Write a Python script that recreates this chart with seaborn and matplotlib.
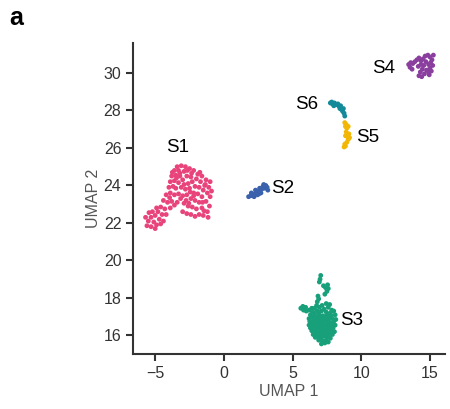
# UMAP scatter of six clusters (S1-S6)
import matplotlib
matplotlib.use("Agg")
import matplotlib.pyplot as plt
import pandas as pd
import seaborn as sns

# --------------------------------------------
# Cluster coordinates
# --------------------------------------------
s1_pts = [(-3.4, 25.0), (-3.1, 25.05), (-2.8, 25.0), (-2.5, 24.9), (-3.6, 24.8), (-3.3, 24.8),
          (-2.9, 24.75), (-2.2, 24.8), (-1.9, 24.6), (-1.6, 24.5), (-1.3, 24.3), (-1.0, 24.2),
          (-3.8, 24.5), (-3.5, 24.55), (-3.2, 24.5), (-2.7, 24.5), (-2.4, 24.45), (-2.0, 24.35),
          (-1.7, 24.2), (-1.4, 24.0), (-1.1, 23.9), (-0.9, 23.7), (-3.9, 24.2), (-3.6, 24.25),
          (-3.3, 24.15), (-3.0, 24.3), (-2.6, 24.1), (-2.3, 24.2), (-2.1, 23.95), (-1.8, 23.9),
          (-1.5, 23.75), (-1.2, 23.6), (-4.0, 23.9), (-3.7, 23.95), (-3.5, 23.85), (-3.1, 23.9),
          (-2.8, 23.8), (-2.5, 23.85), (-2.2, 23.6), (-1.9, 23.55), (-1.6, 23.4), (-1.0, 23.4),
          (-4.2, 23.5), (-3.9, 23.6), (-3.6, 23.5), (-3.3, 23.55), (-3.0, 23.45), (-2.7, 23.5),
          (-2.4, 23.3), (-2.1, 23.2), (-1.8, 23.1), (-1.3, 23.15), (-1.05, 22.9), (-4.4, 23.2),
          (-4.1, 23.1), (-3.8, 23.15), (-3.4, 23.1), (-2.9, 23.05), (-2.6, 22.9), (-2.3, 22.85),
          (-2.0, 22.75), (-1.6, 22.8), (-1.2, 22.6), (-4.6, 22.85), (-4.3, 22.75), (-3.9, 22.8),
          (-3.0, 22.6), (-2.7, 22.5), (-2.4, 22.45), (-2.1, 22.35), (-1.8, 22.45), (-1.5, 22.4),
          (-1.15, 22.3), (-4.8, 22.6), (-4.5, 22.45), (-5.0, 22.4), (-4.7, 22.2), (-5.3, 22.3),
          (-5.1, 22.05), (-5.5, 22.1), (-4.4, 22.1), (-5.6, 21.85), (-5.3, 21.8), (-4.9, 21.9),
          (-5.7, 22.3), (-5.45, 22.55), (-4.9, 22.8), (-4.2, 22.45), (-5.0, 21.7), (-4.6, 21.95),
          (-3.2, 24.65), (-2.35, 24.65), (-2.9, 24.05), (-2.45, 23.65), (-3.15, 23.3), (-2.75, 23.2),
          (-3.6, 22.95), (-2.2, 23.45), (-1.55, 23.1), (-1.35, 24.05), (-3.45, 24.4), (-1.75, 24.7),
          (-3.75, 24.7), (-2.65, 24.8), (-1.45, 22.65), (-2.55, 23.05), (-3.95, 23.35), (-5.2, 22.6)]

s2_pts = [(1.8, 23.4), (1.95, 23.45), (2.1, 23.5), (2.0, 23.6), (2.25, 23.55), (2.4, 23.65),
          (2.3, 23.75), (2.55, 23.7), (2.6, 23.85), (2.75, 23.8), (2.85, 23.95), (2.95, 23.85),
          (3.05, 24.0), (3.15, 23.9), (2.45, 23.5), (2.7, 23.6), (2.2, 23.4), (3.2, 23.75),
          (2.9, 24.05), (2.55, 23.55)]

s3_pts = [(6.6, 17.45), (6.95, 17.5), (7.3, 17.4), (7.6, 17.5), (7.85, 17.35),
          (6.45, 17.25), (6.8, 17.3), (7.1, 17.3), (7.45, 17.25), (7.75, 17.2), (8.0, 17.3),
          (6.3, 17.1), (6.6, 17.1), (6.9, 17.15), (7.2, 17.05), (7.5, 17.1), (7.8, 17.05), (8.1, 17.1),
          (6.2, 16.9), (6.45, 16.95), (6.75, 16.95), (7.05, 16.9), (7.35, 16.95), (7.6, 16.9),
          (7.9, 16.9), (8.15, 16.85), (6.25, 16.75), (6.55, 16.8), (6.85, 16.75), (7.15, 16.75),
          (7.45, 16.8), (7.7, 16.7), (8.0, 16.75), (6.2, 16.55), (6.4, 16.6), (6.7, 16.6),
          (7.0, 16.6), (7.3, 16.6), (7.55, 16.55), (7.85, 16.6), (8.1, 16.55), (6.3, 16.4),
          (6.55, 16.45), (6.85, 16.4), (7.15, 16.45), (7.4, 16.4), (7.7, 16.4), (7.95, 16.4),
          (6.4, 16.25), (6.7, 16.2), (7.0, 16.25), (7.25, 16.25), (7.55, 16.2), (7.8, 16.25),
          (8.05, 16.2), (6.5, 16.05), (6.8, 16.1), (7.1, 16.05), (7.4, 16.1), (7.65, 16.05),
          (7.9, 16.05), (6.65, 15.9), (6.95, 15.9), (7.25, 15.95), (7.5, 15.9), (7.75, 15.85),
          (6.9, 15.75), (7.2, 15.7), (7.45, 15.75), (7.6, 15.65), (7.1, 15.55), (7.35, 15.6),
          (6.55, 17.2), (6.95, 17.0), (7.3, 16.85), (7.6, 16.65), (6.8, 16.5), (7.2, 16.35),
          (7.5, 16.3), (6.6, 16.3), (7.05, 16.15), (7.35, 16.0), (7.85, 16.45), (6.45, 16.7),
          (7.0, 16.45), (7.7, 16.95), (7.05, 15.8), (6.75, 16.0),
          (7.15, 17.6), (7.7, 17.65), (6.75, 17.6), (7.45, 17.7),
          (5.6, 17.45), (5.8, 17.35), (5.75, 17.55), (6.0, 17.3), (6.2, 17.35), (5.95, 17.5), (6.4, 17.45),
          (6.8, 17.8), (6.9, 17.95), (6.85, 18.1), (7.35, 18.2), (7.5, 18.35), (7.6, 18.5),
          (7.4, 18.55), (7.55, 18.7), (7.25, 18.65), (7.0, 19.0), (7.05, 19.2), (6.95, 18.85)]

s4_pts = [(13.45, 30.45), (13.6, 30.55), (13.75, 30.5), (13.9, 30.6), (13.55, 30.3), (13.7, 30.2),
          (14.05, 30.7), (14.2, 30.8), (14.35, 30.65), (14.5, 30.75), (14.65, 30.9), (14.85, 30.95),
          (15.0, 30.85), (15.15, 30.7), (15.05, 30.55), (14.9, 30.45), (15.2, 30.4), (15.0, 30.25),
          (14.75, 30.15), (14.9, 30.05), (15.1, 30.1), (14.6, 29.95), (14.4, 29.8), (14.2, 29.85),
          (14.3, 30.05), (14.55, 30.4), (14.15, 30.35), (14.35, 30.45), (14.7, 30.6), (15.25, 30.95),
          (14.95, 29.9), (14.45, 30.2)]

s5_pts = [(8.8, 27.35), (8.9, 27.25), (8.85, 27.15), (8.95, 27.05), (9.05, 27.15), (8.9, 26.85),
          (9.1, 26.75), (9.0, 26.6), (8.85, 26.65), (9.15, 26.55), (9.05, 26.45), (8.95, 26.3),
          (8.8, 26.2), (8.75, 26.05), (8.85, 26.1)]

s6_pts = [(7.75, 28.4), (7.9, 28.35), (8.05, 28.4), (8.15, 28.3), (8.3, 28.35), (8.4, 28.2),
          (8.5, 28.25), (8.55, 28.05), (8.65, 27.95), (8.75, 27.85), (8.8, 27.7), (8.7, 28.1),
          (8.0, 28.25), (8.45, 28.1), (7.85, 28.45)]

clusters = ['S1', 'S2', 'S3', 'S4', 'S5', 'S6']
colors = ['#E8437A', '#3A62AC', '#17A07A', '#8A3F9E', '#F2B705', '#138A9A']
# label anchor for each cluster name
label_x = [-3.35, 4.3, 9.3, 11.6, 10.5, 6.0]
label_y = [26.0, 23.85, 16.8, 30.25, 26.55, 28.3]

rows = []
for name, pts in zip(clusters, [s1_pts, s2_pts, s3_pts, s4_pts, s5_pts, s6_pts]):
    for x, y in pts:
        rows.append({'UMAP 1': x, 'UMAP 2': y, 'cluster': name})
df = pd.DataFrame(rows)

# --------------------------------------------
# Plot
# --------------------------------------------
sns.set_style("ticks")
plt.rcParams['font.family'] = ['Liberation Sans', 'DejaVu Sans']
fig = plt.figure(figsize=(4.5, 4.09), dpi=100)
ax = fig.add_axes([0.296, 0.134, 0.693, 0.761])

sns.scatterplot(data=df, x='UMAP 1', y='UMAP 2', hue='cluster',
                palette=dict(zip(clusters, colors)), s=12, linewidth=0,
                legend=False, ax=ax)

for name, lx, ly in zip(clusters, label_x, label_y):
    ax.text(lx, ly, name, fontsize=13.5, ha='center', va='center', color='black')

ax.set_xlim(-6.6, 16.1)
ax.set_ylim(15.0, 31.6)
ax.set_xticks([-5, 0, 5, 10, 15])
ax.set_yticks([16, 18, 20, 22, 24, 26, 28, 30])
ax.tick_params(labelsize=11.5, colors='#333333', width=1.5, length=5)
ax.set_xlabel('UMAP 1', fontsize=11.5, color='#555555', labelpad=2)
ax.set_ylabel('UMAP 2', fontsize=11.5, color='#555555', labelpad=2)
for sp in ['left', 'bottom']:
    ax.spines[sp].set_linewidth(1.5)
    ax.spines[sp].set_color('#333333')
sns.despine(ax=ax)

fig.text(0.02, 0.985, 'a', fontsize=18, fontweight='bold', va='top', color='black')

fig.savefig('out.png', dpi=100)
